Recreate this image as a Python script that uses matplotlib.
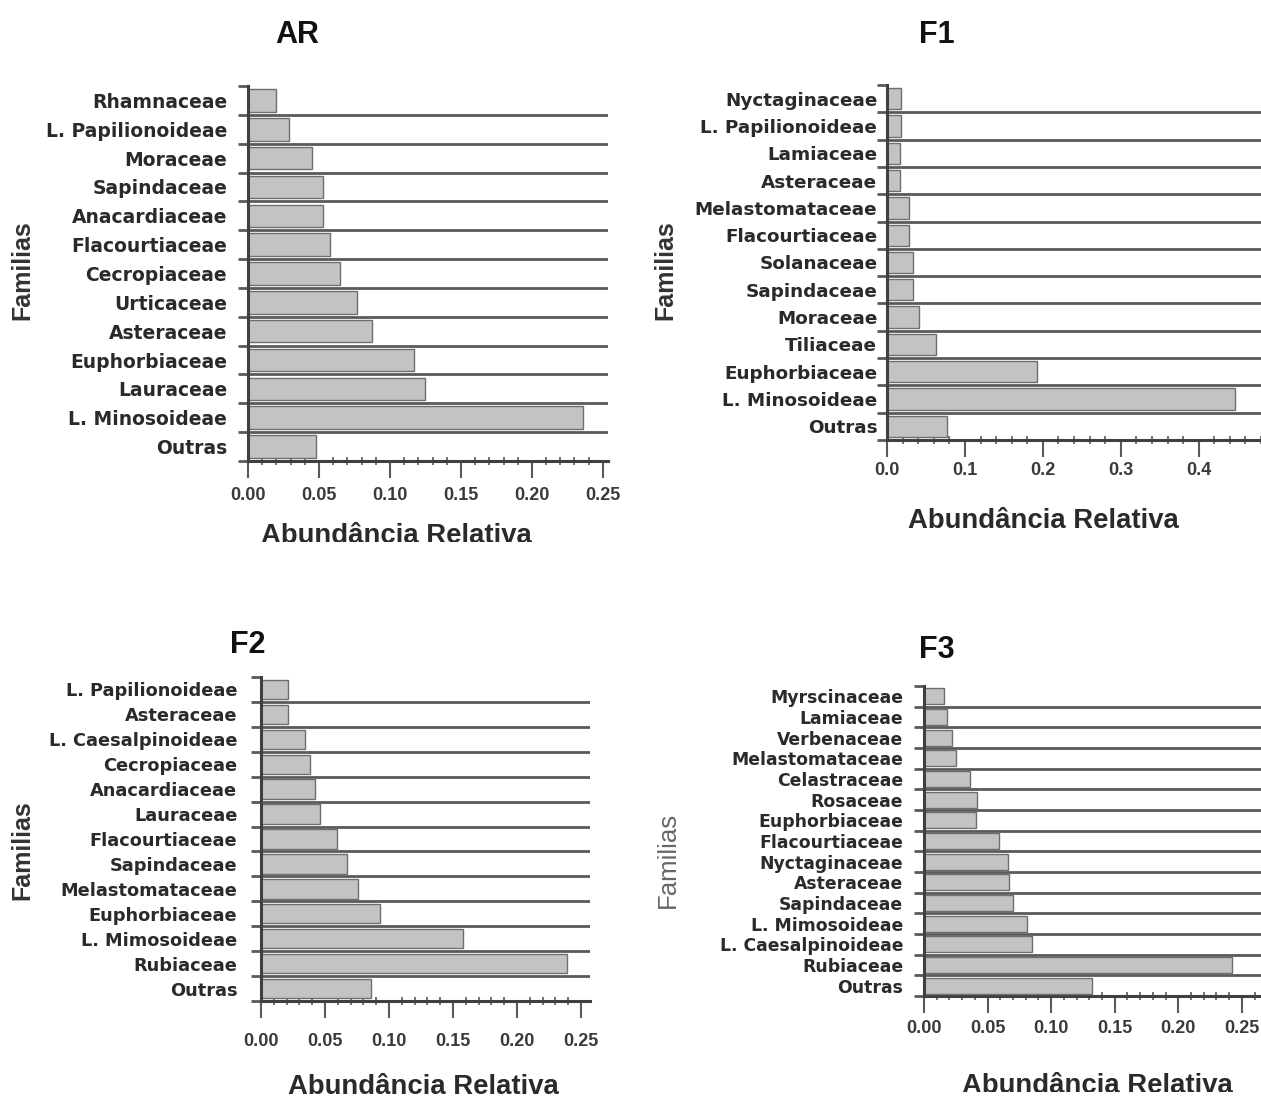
import matplotlib
matplotlib.use("Agg")
import matplotlib.pyplot as plt
from matplotlib.ticker import MultipleLocator, FixedLocator, FormatStrFormatter
from matplotlib.transforms import Bbox
import numpy as np

plt.rcParams['font.family'] = ['Liberation Sans', 'DejaVu Sans']

# ---------------- data ----------------
ar_families = ["Rhamnaceae", "L. Papilionoideae", "Moraceae", "Sapindaceae", "Anacardiaceae",
               "Flacourtiaceae", "Cecropiaceae", "Urticaceae", "Asteraceae", "Euphorbiaceae",
               "Lauraceae", "L. Minosoideae", "Outras"]
ar_values = [0.020, 0.029, 0.045, 0.053, 0.053, 0.058, 0.065, 0.077, 0.087, 0.117, 0.125, 0.236, 0.048]

f1_families = ["Nyctaginaceae", "L. Papilionoideae", "Lamiaceae", "Asteraceae", "Melastomataceae",
               "Flacourtiaceae", "Solanaceae", "Sapindaceae", "Moraceae", "Tiliaceae",
               "Euphorbiaceae", "L. Minosoideae", "Outras"]
f1_values = [0.018, 0.018, 0.017, 0.017, 0.028, 0.028, 0.033, 0.033, 0.041, 0.063, 0.193, 0.446, 0.077]

f2_families = ["L. Papilionoideae", "Asteraceae", "L. Caesalpinoideae", "Cecropiaceae", "Anacardiaceae",
               "Lauraceae", "Flacourtiaceae", "Sapindaceae", "Melastomataceae", "Euphorbiaceae",
               "L. Mimosoideae", "Rubiaceae", "Outras"]
f2_values = [0.021, 0.021, 0.034, 0.038, 0.042, 0.046, 0.059, 0.067, 0.076, 0.093, 0.158, 0.239, 0.086]

f3_families = ["Myrscinaceae", "Lamiaceae", "Verbenaceae", "Melastomataceae", "Celastraceae",
               "Rosaceae", "Euphorbiaceae", "Flacourtiaceae", "Nyctaginaceae", "Asteraceae",
               "Sapindaceae", "L. Mimosoideae", "L. Caesalpinoideae", "Rubiaceae", "Outras"]
f3_values = [0.016, 0.018, 0.022, 0.025, 0.036, 0.042, 0.041, 0.059, 0.066, 0.067, 0.070, 0.081,
             0.085, 0.242, 0.132]

W, H = 1261, 1102
fig = plt.figure(figsize=(W / 100, H / 100), dpi=100)

def px_rect(left, top, right, bottom):
    return [left / W, 1 - bottom / H, (right - left) / W, (bottom - top) / H]

LINE = '#5a5a5a'
TXT = '#2a2a2a'

def panel(rect, fams, vals, xmax, major, minor, fmt, title, title_xy,
          ylabel_xy, xlabel_xy, ylabel_bold=True, lab_size=13.5, lab_pad=15,
          tick_pad=5, xlabel_clip=None):
    ax = fig.add_axes(px_rect(*rect))
    n = len(fams)
    y = np.arange(n)
    ax.barh(y, vals, height=0.78, color='#c3c3c3', edgecolor='#6e6e6e', linewidth=1.0, zorder=3)
    ax.set_ylim(n - 0.5, -0.5)
    ax.set_xlim(0, xmax)
    for b in np.arange(0.5, n - 0.5, 1.0):
        ax.axhline(b, color=LINE, lw=2.0, zorder=2)
    ax.set_yticks(y)
    ax.set_yticklabels(fams, fontfamily='DejaVu Sans', fontweight='bold')
    ax.yaxis.set_minor_locator(FixedLocator(np.arange(-0.5, n, 1.0)))
    ax.tick_params(axis='y', which='major', length=0, pad=lab_pad, labelsize=lab_size,
                   labelcolor=TXT)
    ax.tick_params(axis='y', which='minor', length=7, width=2, color=LINE, direction='out')
    ax.xaxis.set_major_locator(MultipleLocator(major))
    ax.xaxis.set_minor_locator(MultipleLocator(minor))
    ax.xaxis.set_major_formatter(FormatStrFormatter(fmt))
    ax.tick_params(axis='x', which='major', length=12, width=1.5, color=LINE,
                   direction='out', pad=tick_pad, labelsize=13, labelcolor='#3a3a3a')
    ax.tick_params(axis='x', which='minor', length=6, width=1.2, color=LINE, direction='inout')
    for lab in ax.get_xticklabels():
        lab.set_fontweight('bold')
    for s in ['top', 'right']:
        ax.spines[s].set_visible(False)
    for s in ['left', 'bottom']:
        ax.spines[s].set_color('#404040')
        ax.spines[s].set_linewidth(2.2)
    ax.spines['left'].set_zorder(4)
    fig.text(title_xy[0] / W, 1 - title_xy[1] / H, title, fontsize=22, fontweight='bold',
             ha='center', va='center', color='#111111')
    fig.text(ylabel_xy[0] / W, 1 - ylabel_xy[1] / H, "Familias", fontsize=18 if ylabel_bold else 18.5,
             fontweight='bold' if ylabel_bold else 'normal', rotation=90,
             ha='center', va='center', color='#333333' if ylabel_bold else '#666666')
    xt = fig.text(xlabel_xy[0] / W, 1 - xlabel_xy[1] / H, "Abundância Relativa", fontsize=19.8,
                  fontweight='bold', ha='center', va='baseline', color=TXT)
    if xlabel_clip is not None:
        xt.set_clip_box(Bbox.from_extents(0, H - xlabel_clip, W, H))
        xt.set_clip_on(True)
    return ax

panel((248, 86, 608, 461), ar_families, ar_values, 0.2536, 0.05, 0.01, '%.2f', "AR",
      (297, 35), (22, 270), (396, 543), lab_size=13.5, lab_pad=15, tick_pad=6.5,
      xlabel_clip=542)
panel((887, 85, 1261, 440), f1_families, f1_values, 0.48, 0.1, 0.02, '%.1f', "F1",
      (937, 35), (665, 270), (1043, 528), lab_size=13.2, lab_pad=7, tick_pad=3.5)
panel((261, 677, 590, 1001), f2_families, f2_values, 0.257, 0.05, 0.01, '%.2f', "F2",
      (248, 645), (22, 850), (423, 1094), lab_size=12.8, lab_pad=17, tick_pad=11)
panel((924, 686, 1261, 996), f3_families, f3_values, 0.265, 0.05, 0.01, '%.2f', "F3",
      (937, 650), (668, 860), (1097, 1093), ylabel_bold=False, lab_size=12.4, lab_pad=15,
      tick_pad=5.5, xlabel_clip=1092)

fig.savefig("out.png", dpi=100, facecolor='white')
